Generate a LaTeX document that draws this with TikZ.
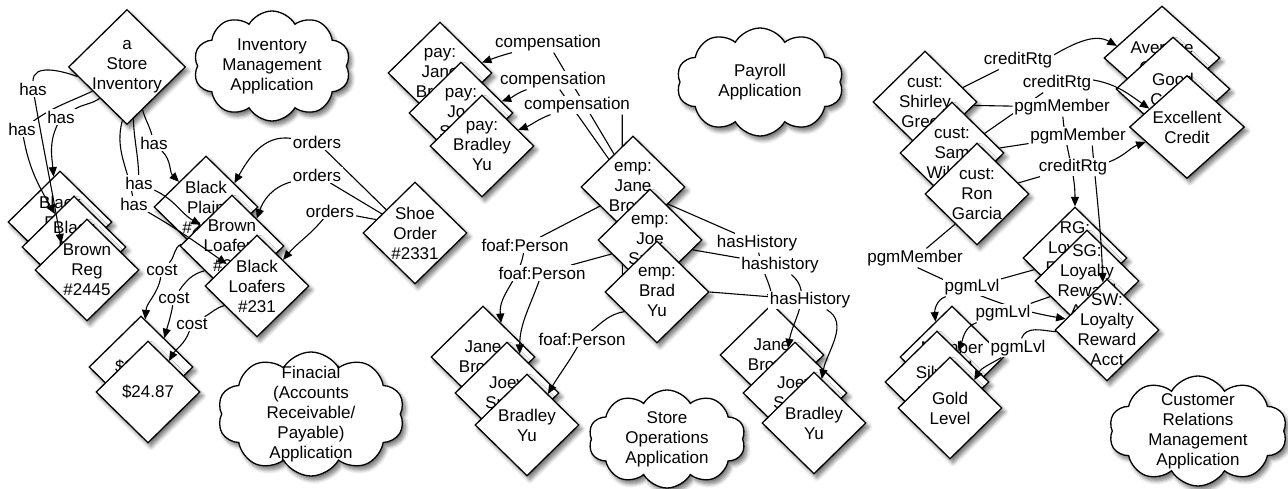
\documentclass[tikz,border=0pt]{standalone}
\usepackage{fontspec}
\setmainfont{Liberation Sans}
\usetikzlibrary{shapes.geometric,shapes.symbols,arrows.meta,shadows.blur}
\pgfdeclarelayer{bg}
\pgfdeclarelayer{fg}
\pgfsetlayers{bg,main,fg}
\begin{document}
\begin{tikzpicture}[x=1pt,y=1pt,
  txt/.style={font=\fontsize{17}{20}\selectfont, align=center, inner sep=0pt},
  dshadow/.style={blur shadow={shadow xshift=3pt, shadow yshift=-4pt, shadow blur radius=4pt, shadow blur steps=6, shadow opacity=55}},
  dia/.style={diamond, draw, line width=1.3pt, fill=white, inner sep=0pt,
    minimum width=104pt, minimum height=102pt, dshadow, label={[txt]center:{#1}}},
  cld/.style={cloud, cloud puffs=10, cloud puff arc=120, cloud ignores aspect, draw,
    line width=1.3pt, fill=white, inner sep=0pt, dshadow, label={[txt]center:{#1}}},
  lab/.style={txt, fill=white, inner sep=1.5pt},
  ln/.style={line width=1.1pt},
  ar/.style={ln, -{Triangle[length=9.5pt,width=8pt]}},
]
\useasboundingbox (0,0) rectangle (1288,-489);

% ---------- application clouds ----------
\node[cld={Inventory\\Management\\Application}, minimum width=157pt, minimum height=110pt] (cinv) at (272,-66) {};
\node[cld={Finacial\\(Accounts\\Receivable/\\Payable)\\Application}, minimum width=187pt, minimum height=124pt] (cfin) at (311,-414) {};
\node[cld={Payroll\\Application}, minimum width=167pt, minimum height=108pt] (cpay) at (760,-82) {};
\node[cld={Store\\Operations\\Application}, minimum width=157pt, minimum height=98pt] (cops) at (667,-439) {};
\node[cld={Customer\\Relations\\Management\\Application}, minimum width=178pt, minimum height=110pt] (ccrm) at (1198,-431) {};

% ---------- inventory ----------
\node[dia={a\\Store\\Inventory}, minimum width=117pt, minimum height=115pt] (si) at (127,-67) {};
\node[dia={Black\\Reg\\\#2441}] (L1) at (60,-222) {};
\node[dia={Black\\Reg\\\#2443}] (L2) at (74,-247) {};
\node[dia={Brown\\Reg\\\#2445}] (L3) at (87,-270) {};
\node[dia={Black\\Plain\\\#2332}] (M1) at (206,-207) {};
\node[dia={Brown\\Loafers\\\#234}] (M2) at (232,-246) {};
\node[dia={Black\\Loafers\\\#231}] (M3) at (257,-286) {};
\node[dia={Shoe\\Order\\\#2331}] (ord) at (415,-233) {};
\node[dia={\$29.95}] (P1) at (141,-367) {};
\node[dia={\$24.87}] (P2) at (148,-392) {};

% ---------- payroll and store operations ----------
\node[dia={pay:\\Jane\\Brown}] (payJane) at (440,-73) {};
\node[dia={pay:\\Joe\\Smith}] (payJoe) at (461,-113) {};
\node[dia={pay:\\Bradley\\Yu}] (payBrad) at (482,-146) {};
\node[dia={emp:\\Jane\\Brown}] (eJane) at (633,-187) {};
\node[dia={emp:\\Joe\\Smith}] (eJoe) at (650,-240) {};
\node[dia={emp:\\Brad\\Yu}] (eBrad) at (657,-292) {};
\node[dia={Jane\\Brown}] (pJane) at (483,-357) {};
\node[dia={Joey\\Smith}] (pJoey) at (507,-393) {};
\node[dia={Bradley\\Yu}] (pBrad) at (527,-425) {};
\node[dia={Jane\\Brown}] (hJane) at (772,-355) {};
\node[dia={Joey\\Smith}] (hJoey) at (795,-393) {};
\node[dia={Bradley\\Yu}] (hBrad) at (814,-423) {};

% ---------- customer relations ----------
\node[dia={Average\\Credit}, minimum width=116pt, minimum height=104pt] (avg) at (1162,-58) {};
\node[dia={Good\\Credit}, minimum width=114pt, minimum height=104pt] (good) at (1173,-89) {};
\node[dia={Excellent\\Credit}, minimum width=115pt, minimum height=103pt] (exc) at (1187,-127) {};
\node[dia={cust:\\Shirley\\Green}] (shir) at (925,-102) {};
\node[dia={cust:\\Sam\\Wilson}] (sam) at (952,-153) {};
\node[dia={cust:\\Ron\\Garcia}] (ron) at (977,-194) {};
\node[dia={RG:\\Loyalty\\Reward\\Acct}] (rg) at (1075,-258) {};
\node[dia={SG:\\Loyalty\\Reward\\Acct}] (sg) at (1087,-281) {};
\node[dia={SW:\\Loyalty\\Reward\\Acct}] (sw) at (1107,-330) {};
\node[dia={Member\\Level}] (mem) at (952,-357) {};
\node[dia={Silver\\Level}] (silver) at (937,-382) {};
\node[dia={Gold\\Level}] (gold) at (950,-408) {};

% ---------- edge labels ----------
\begin{pgfonlayer}{fg}
\node[lab] (h1) at (33,-89) {has};
\node[lab] (h2) at (61,-117) {has};
\node[lab] (h3) at (22,-129) {has};
\node[lab] (h4) at (154,-143) {has};
\node[lab] (h5) at (139,-183) {has};
\node[lab] (h6) at (134,-204) {has};
\node[lab] (o1) at (317,-142) {orders};
\node[lab] (o2) at (317,-175) {orders};
\node[lab] (o3) at (330,-211) {orders};
\node[lab] (c1) at (162,-270) {cost};
\node[lab] (c2) at (174,-298) {cost};
\node[lab] (c3) at (192,-324) {cost};
\node[lab] (k1) at (548,-43) {compensation};
\node[lab] (k2) at (553,-80) {compensation};
\node[lab] (k3) at (577,-105) {compensation};
\node[lab] (f1) at (525,-245) {foaf:Person};
\node[lab] (f2) at (542,-273) {foaf:Person};
\node[lab] (f3) at (582,-339) {foaf:Person};
\node[lab] (y1) at (757,-243) {hasHistory};
\node[lab] (y2) at (780,-265) {hashistory};
\node[lab] (y3) at (810,-300) {hasHistory};
\node[lab] (r1) at (1018,-60) {creditRtg};
\node[lab] (r2) at (1057,-83) {creditRtg};
\node[lab] (m1) at (1062,-107) {pgmMember};
\node[lab] (m2) at (1078,-136) {pgmMember};
\node[lab] (r3) at (1073,-167) {creditRtg};
\node[lab] (m3) at (915,-258) {pgmMember};
\node[lab] (l1) at (972,-287) {pgmLvl};
\node[lab] (l2) at (1003,-313) {pgmLvl};
\node[lab] (l3) at (1018,-348) {pgmLvl};
\end{pgfonlayer}

% ---------- inventory links ----------
\draw[ln] (si.191) to[out=160,in=90] (h1);
\draw[ar] (h1) to[out=-80,in=100] (L3.134);
\draw[ln] (si.229) to[out=215,in=30] (h2);
\draw[ar] (h2) to[out=-115,in=95] (L1.98);
\draw[ln] (si.215) to[out=205,in=35] (h3);
\draw[ar] (h3) to[out=-80,in=120] (L2.120);
\draw[ln] (si.-70) to[out=-75,in=105] (h4);
\draw[ar] (h4) to[out=-45,in=135] (M1.137);
\draw[ln] (si.-83) to[out=-88,in=92] (h5);
\draw[ar] (h5) to[out=-25,in=150] (M2.146);
\draw[ln] (si.-95) to[out=-105,in=100] (h6);
\draw[ar] (h6) to[out=-30,in=145] (M3.144);

\draw[ln] (ord.141) -- (o1);
\draw[ar] (o1) to[out=172,in=60] (M1.40);
\draw[ln] (ord.150) -- (o2);
\draw[ar] (o2) to[out=195,in=70] (M2.48);
\draw[ln] (ord.161) -- (o3);
\draw[ar] (o3) to[out=-130,in=50] (M3.45);

\draw[ln] (M2.178) to[out=205,in=45] (c1);
\draw[ar] (c1) to[out=-100,in=85] (P1.85);
\draw[ln] (M2.222) to[out=195,in=55] (c2);
\draw[ar] (c2) to[out=-100,in=75] (P1.51);
\draw[ln] (M3.211) to[out=195,in=30] (c3);
\draw[ar] (c3) to[out=-110,in=60] (P2.56);

% ---------- payroll links (behind the employee diamonds) ----------
\begin{pgfonlayer}{bg}
\draw[ln] (eJane.120) -- (k1);
\draw[ar] (k1) to[out=195,in=20] (payJane.14);
\draw[ln] (eJoe.107) -- (k2);
\draw[ar] (k2) to[out=200,in=20] (payJoe.16);
\draw[ln] (eBrad.153) -- (k3.-12);
\draw[ar] (k3) to[out=200,in=20] (payBrad.24);
\end{pgfonlayer}

% ---------- store operation links ----------
\draw[ln] (eJane.210) -- (f1);
\draw[ar] (f1) to[out=-100,in=95] (pJane.62);
\draw[ln] (eJoe.200) -- (f2);
\draw[ar] (f2) to[out=-110,in=90] (pJoey.72);
\draw[ln] (eBrad.211) to[out=190,in=40] (f3);
\draw[ar] (f3) to[out=-120,in=60] (pBrad.56);

\draw[ln] (eJane.-26) -- (y1);
\draw[ar] (y1) to[out=-80,in=95] (hJane.90);
\draw[ln] (eJoe.-13) -- (y2);
\draw[ar] (y2) to[out=-40,in=80] (hJoey.99);
\draw[ln] (eBrad.0) -- (y3);
\draw[ar] (y3) to[out=-30,in=80] (hBrad.80);

% ---------- customer relation links ----------
\draw[ln] (shir.21) -- (r1);
\draw[ar] (r1.8) to[out=30,in=150] (avg.165);
\draw[ln] (sam.31) -- (r2);
\draw[ar] (r2.5) to[out=-10,in=145] (exc.154);
\draw[ln] (shir.-4) -- (m1);
\draw[ar] (m1) to[out=-85,in=90] (rg.90);
\draw[ln] (sam.6) -- (m2);
\draw[ar] (m2.-34) to[out=-85,in=92] (sw.95);
\draw[ln] (ron.15) -- (r3);
\draw[ar] (r3.8) to[out=20,in=200] (exc.200);
\draw[ln] (ron.234) -- (m3);
\draw[ar] (m3.-75) to[out=-25,in=170] (sw.165);
\draw[ln] (rg.196) -- (l1);
\draw[ar] (l1) to[out=200,in=95] (mem.115);
\draw[ln] (sg.203) -- (l2);
\draw[ar] (l2) to[out=200,in=70] (silver.55);
\draw[ln] (sw.182) to[out=175,in=70] (l3);
\draw[ar] (l3) to[out=210,in=60] (gold.49);
\end{tikzpicture}
\end{document}
